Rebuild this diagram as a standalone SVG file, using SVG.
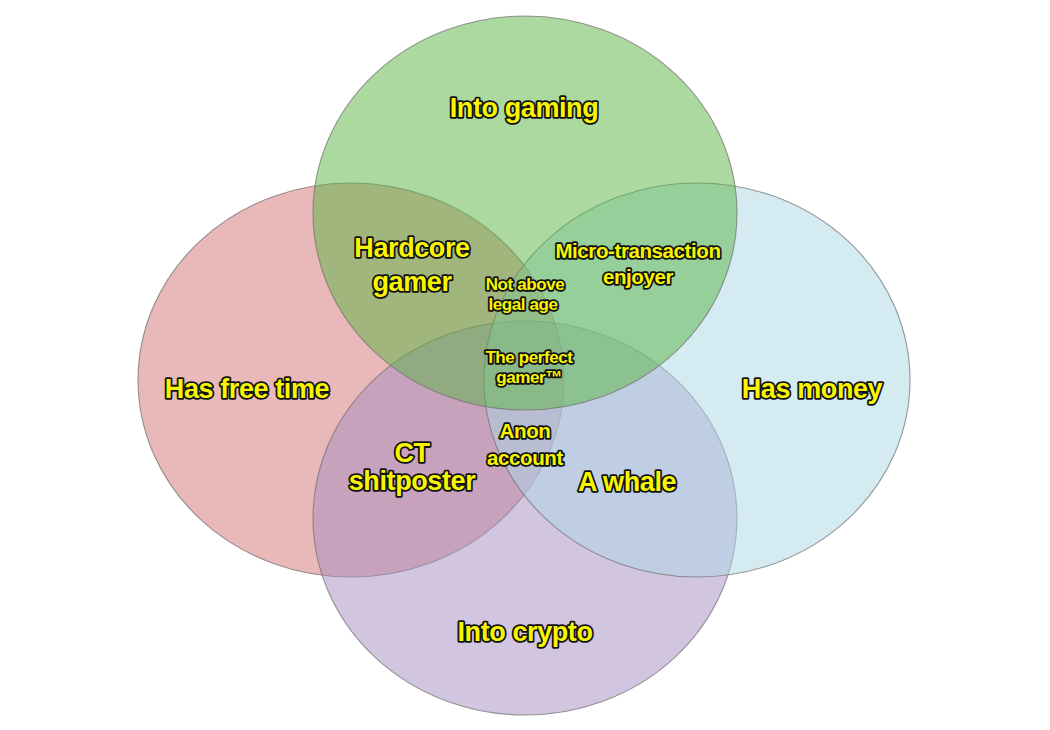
<svg xmlns="http://www.w3.org/2000/svg" width="1050" height="730" viewBox="0 0 1050 730">
<style>
.c{stroke:#6f6f6f;stroke-width:1.1;stroke-opacity:0.7;fill-opacity:0.5}
.t{font-family:"Liberation Sans",Arial,sans-serif;font-weight:bold;fill:#f7f500;stroke:#111;stroke-width:3.6;stroke-linejoin:round;paint-order:stroke;text-anchor:middle;letter-spacing:-0.4px}
.l{font-size:27px}
.m{font-size:20.5px}
.s{font-size:17px}
</style>
<rect width="1050" height="730" fill="#ffffff"/>
<g id="circle-free-time"><ellipse class="c" cx="351" cy="380" rx="213" ry="197" fill="#d37171"/></g>
<g id="circle-crypto"><ellipse class="c" cx="525" cy="518" rx="212" ry="197" fill="#a58bbf"/></g>
<g id="circle-money"><ellipse class="c" cx="697" cy="380" rx="213" ry="197" fill="#abd7e5"/></g>
<g id="circle-gaming"><ellipse class="c" cx="525" cy="213" rx="212" ry="197" fill="#59b341"/></g>
<g id="labels">
<text class="t l" x="524" y="117">Into gaming</text>
<text class="t l" x="247" y="398">Has free time</text>
<text class="t l" x="812" y="398">Has money</text>
<text class="t l" x="525" y="641">Into crypto</text>
<text class="t l" x="412" y="257">Hardcore</text>
<text class="t l" x="412" y="291">gamer</text>
<text class="t m" x="638" y="258">Micro-transaction</text>
<text class="t m" x="638" y="284">enjoyer</text>
<text class="t s" x="525" y="290">Not above</text>
<text class="t s" x="523" y="310">legal age</text>
<text class="t s" x="529" y="363">The perfect</text>
<text class="t s" x="529" y="383">gamer™</text>
<text class="t m" x="525" y="438">Anon</text>
<text class="t m" x="525" y="465">account</text>
<text class="t l" x="412" y="462">CT</text>
<text class="t l" x="412" y="490">shitposter</text>
<text class="t l" x="627" y="491">A whale</text>
</g>
</svg>
